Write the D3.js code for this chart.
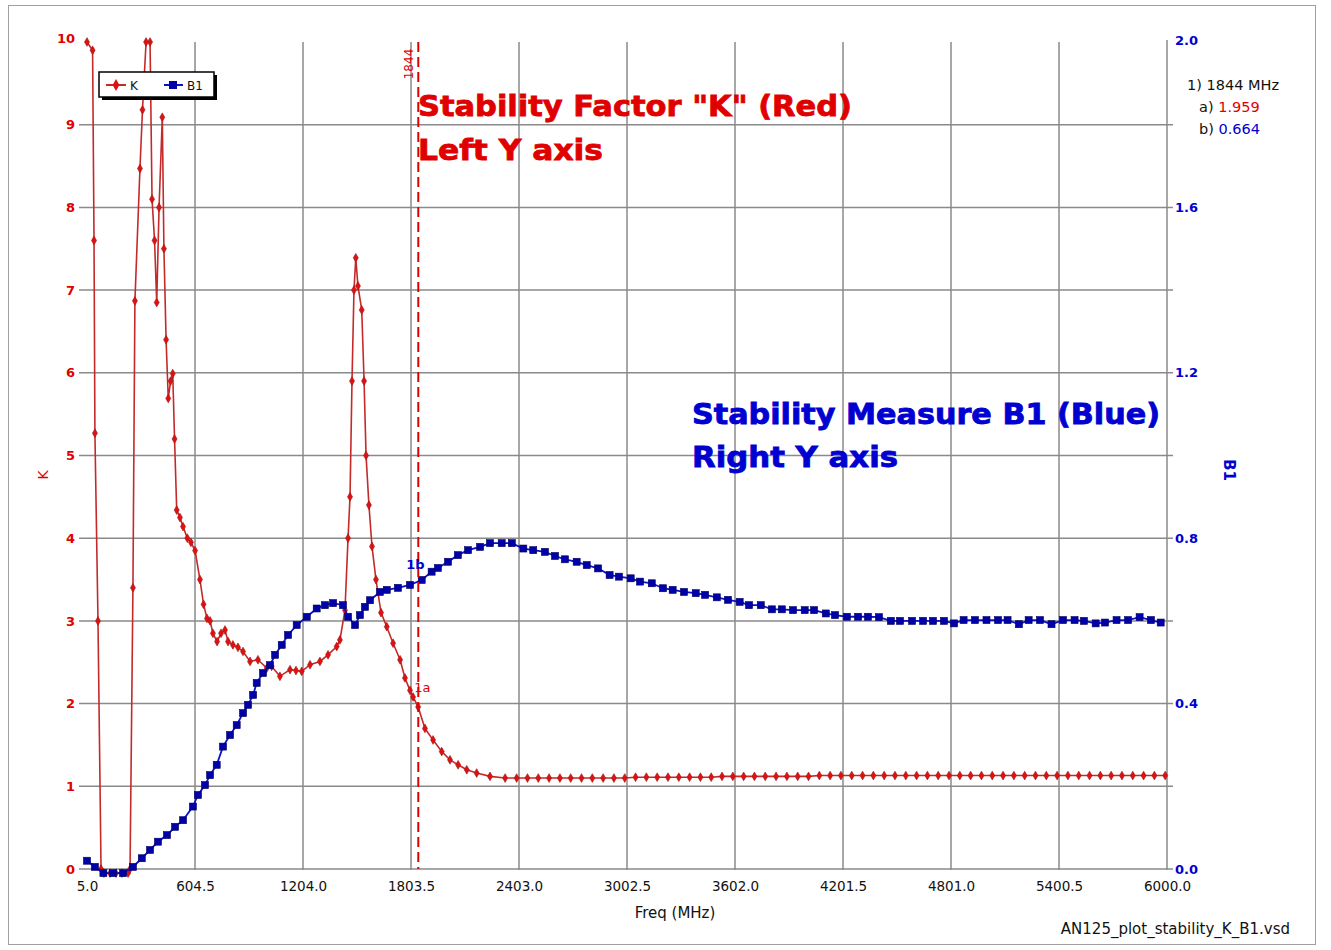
<!DOCTYPE html>
<meta charset="utf-8">
<style>
  body { margin: 0; background: #fff; }
  svg text { font-family: "DejaVu Sans", sans-serif; }
</style>
<script src="https://d3js.org/d3.v7.min.js"></script>
<div id="chart"></div>
<script>
// Stability factor K (left axis) – frequency in MHz
const kFreq = [5, 36, 44, 49, 66, 83, 99, 133, 166, 199, 233, 244, 260, 271, 299, 313, 333, 355, 366, 380,
  392, 405, 423, 432, 444, 456, 469, 481, 491, 503, 521, 538, 562, 582, 605, 632, 652, 671, 688, 704,
  727, 749, 771, 788, 815, 843, 871, 910, 954, 1003, 1030, 1076, 1132, 1165, 1197, 1243, 1298, 1343, 1391, 1409,
  1437, 1454, 1465, 1476, 1487, 1497, 1509, 1530, 1543, 1554, 1570, 1587, 1609, 1637, 1669, 1704, 1743, 1770, 1798, 1815,
  1843, 1881, 1926, 1974, 2020, 2065, 2113, 2168, 2242, 2326,
  2390, 2450, 2510, 2570, 2630, 2690, 2750, 2810, 2870, 2930, 2990, 3050, 3110, 3170, 3230, 3290, 3350, 3410, 3470, 3530,
  3590, 3650, 3710, 3770, 3830, 3890, 3950, 4010, 4070, 4130, 4190, 4250, 4310, 4370, 4430, 4490, 4550, 4610, 4670, 4730,
  4790, 4850, 4910, 4970, 5030, 5090, 5150, 5210, 5270, 5330, 5390, 5450, 5510, 5570, 5630, 5690, 5750, 5810, 5870, 5930, 5990];
const kVals = [10, 9.9, 7.6, 5.27, 3.0, 0, -0.05, -0.05, -0.05, -0.05, -0.05, 0.0, 3.4, 6.87, 8.47, 9.18, 10, 10, 8.1, 7.6,
  6.85, 8.0, 9.09, 7.5, 6.4, 5.69, 5.9, 5.99, 5.2, 4.34, 4.25, 4.14, 4.0, 3.95, 3.85, 3.5, 3.2, 3.03, 3.0, 2.85,
  2.75, 2.85, 2.89, 2.75, 2.71, 2.68, 2.63, 2.51, 2.53, 2.43, 2.45, 2.33, 2.41, 2.4, 2.39, 2.47, 2.51, 2.59, 2.69, 2.77,
  3.13, 4.0, 4.5, 5.9, 7.0, 7.39, 7.05, 6.76, 5.9, 5.0, 4.4, 3.9, 3.5, 3.1, 2.93, 2.73, 2.53, 2.31, 2.16, 2.08,
  1.96, 1.70, 1.56, 1.42, 1.32, 1.26, 1.20, 1.16, 1.12, 1.10,
  1.10, 1.10, 1.10, 1.10, 1.10, 1.10, 1.10, 1.10, 1.10, 1.10, 1.10, 1.11, 1.11, 1.11, 1.11, 1.11, 1.11, 1.11, 1.11, 1.12,
  1.12, 1.12, 1.12, 1.12, 1.12, 1.12, 1.12, 1.12, 1.13, 1.13, 1.13, 1.13, 1.13, 1.13, 1.13, 1.13, 1.13, 1.13, 1.13, 1.13,
  1.13, 1.13, 1.13, 1.13, 1.13, 1.13, 1.13, 1.13, 1.13, 1.13, 1.13, 1.13, 1.13, 1.13, 1.13, 1.13, 1.13, 1.13, 1.13, 1.13, 1.13];

// Stability measure B1 (right axis)
const b1Freq = [5, 49, 96, 149, 205, 260, 309, 355, 399, 449, 494, 538, 593, 621, 660, 688, 725, 760, 799, 836,
  871, 899, 927, 947, 982, 1021, 1049, 1086, 1121, 1169, 1225, 1280, 1326, 1371, 1426, 1454, 1493, 1520, 1548, 1576,
  1631, 1669, 1731, 1798, 1863, 1918, 1953, 2009, 2064, 2120, 2187, 2242, 2307, 2363, 2427, 2482, 2547, 2603, 2658, 2723,
  2779, 2842, 2906, 2958, 3023, 3075, 3140, 3202, 3256, 3319, 3384, 3436, 3501, 3563, 3628, 3680, 3745, 3807, 3862, 3924,
  3989, 4041, 4106, 4157, 4223, 4285, 4340, 4401, 4467, 4518, 4585, 4646, 4701, 4762, 4818, 4871, 4934, 4998, 5062, 5115,
  5178, 5232, 5295, 5359, 5423, 5487, 5539, 5604, 5656, 5720, 5784, 5848, 5911, 5965];
const b1Vals = [0.02, 0.005, -0.01, -0.01, -0.01, 0.005, 0.026, 0.046, 0.066, 0.082, 0.102, 0.118, 0.151, 0.179, 0.203, 0.227, 0.252, 0.296, 0.324, 0.348,
  0.377, 0.397, 0.421, 0.450, 0.474, 0.493, 0.518, 0.542, 0.566, 0.590, 0.610, 0.630, 0.638, 0.643, 0.638, 0.610, 0.590, 0.614, 0.634, 0.650,
  0.670, 0.675, 0.680, 0.687, 0.699, 0.719, 0.728, 0.743, 0.759, 0.771, 0.779, 0.788, 0.788, 0.788, 0.775, 0.771, 0.767, 0.757, 0.749, 0.743,
  0.735, 0.727, 0.711, 0.707, 0.703, 0.695, 0.691, 0.679, 0.675, 0.670, 0.667, 0.663, 0.657, 0.651, 0.646, 0.638, 0.638, 0.628, 0.628, 0.626,
  0.626, 0.626, 0.618, 0.614, 0.610, 0.610, 0.610, 0.609, 0.600, 0.600, 0.600, 0.600, 0.600, 0.600, 0.594, 0.602, 0.602, 0.602, 0.602, 0.602,
  0.592, 0.602, 0.602, 0.592, 0.602, 0.602, 0.600, 0.594, 0.596, 0.602, 0.602, 0.609, 0.602, 0.596];

const xTicks = [5.0, 604.5, 1204.0, 1803.5, 2403.0, 3002.5, 3602.0, 4201.5, 4801.0, 5400.5, 6000.0];
const kTicks = [0, 1, 2, 3, 4, 5, 6, 7, 8, 9, 10];
const b1Ticks = [0.0, 0.4, 0.8, 1.2, 1.6, 2.0];
const markerFreq = 1844, markerK = 1.959, markerB1 = 0.664;

const W = 1331, H = 950;
const redLine = "#c42a2a", redMark = "#e01010", red = "#e00000";
const blueLine = "#1010c8", blueMark = "#0000a8", blue = "#0000d0";
const grid = "#8a8a8a";

const svg = d3.select("#chart").append("svg")
  .attr("width", W).attr("height", H);

svg.append("rect").attr("x", 8.5).attr("y", 5.5).attr("width", 1307).attr("height", 939)
  .attr("fill", "#fff").attr("stroke", "#a0a0a0");

const x = d3.scaleLinear().domain([5, 6000]).range([87, 1167]);
const yK = d3.scaleLinear().domain([0, 10]).range([869, 42]);
const yB = d3.scaleLinear().domain([0, 2]).range([869, 42]);

// grid
svg.append("g").selectAll("line").data(kTicks.filter(d => d < 10)).join("line")
  .attr("x1", 79).attr("x2", 1173)
  .attr("y1", d => yK(d)).attr("y2", d => yK(d))
  .attr("stroke", grid).attr("stroke-width", 1.5);
svg.append("g").selectAll("line").data(xTicks.filter(d => d > 5)).join("line")
  .attr("x1", d => x(d)).attr("x2", d => x(d))
  .attr("y1", d => d === 6000 ? 40 : yK(10)).attr("y2", yK(0) + 1)
  .attr("stroke", grid).attr("stroke-width", 1.5);

// axes labels
const left = svg.append("g").attr("transform", "translate(87,0)")
  .call(d3.axisLeft(yK).tickValues(kTicks).tickSize(0).tickPadding(12));
left.select(".domain").remove();
left.selectAll("text").attr("fill", red).attr("font-size", 13).attr("font-weight", "bold")
  .attr("dy", d => d === 10 ? "0.05em" : "0.32em");

const right = svg.append("g").attr("transform", "translate(1167,0)")
  .call(d3.axisRight(yB).tickValues(b1Ticks).tickFormat(d3.format(".1f")).tickSize(0).tickPadding(8));
right.select(".domain").remove();
right.selectAll("text").attr("fill", blue).attr("font-size", 13).attr("font-weight", "bold")
  .attr("dy", d => d === 2 ? "0.2em" : "0.32em");

const bottom = svg.append("g").attr("transform", "translate(0,869)")
  .call(d3.axisBottom(x).tickValues(xTicks).tickFormat(d3.format(".1f")).tickSize(0).tickPadding(12));
bottom.select(".domain").remove();
bottom.selectAll("text").attr("fill", "#111").attr("font-size", 13.5);

svg.append("text").attr("transform", "translate(48,475) rotate(-90)")
  .attr("text-anchor", "middle").attr("fill", red).attr("font-size", 14).text("K");
svg.append("text").attr("transform", "translate(1224,470) rotate(90)")
  .attr("text-anchor", "middle").attr("fill", blue).attr("font-size", 15).attr("font-weight", "bold").text("B1");
svg.append("text").attr("x", 675).attr("y", 918).attr("text-anchor", "middle")
  .attr("fill", "#111").attr("font-size", 15).text("Freq (MHz)");
svg.append("text").attr("x", 1290).attr("y", 934).attr("text-anchor", "end")
  .attr("fill", "#111").attr("font-size", 15).text("AN125_plot_stability_K_B1.vsd");

// clip
svg.append("clipPath").attr("id", "plot").append("rect")
  .attr("x", 80).attr("y", 30).attr("width", 1095).attr("height", 850);
const plot = svg.append("g").attr("clip-path", "url(#plot)");

// series
const kData = kFreq.map((f, i) => [f, kVals[i]]);
const bData = b1Freq.map((f, i) => [f, b1Vals[i]]);

plot.append("path").datum(kData)
  .attr("fill", "none").attr("stroke", redLine).attr("stroke-width", 1.6)
  .attr("d", d3.line().x(d => x(d[0])).y(d => yK(d[1])));
plot.append("g").selectAll("path").data(kData).join("path")
  .attr("transform", d => `translate(${x(d[0])},${yK(d[1])})`)
  .attr("d", d3.symbol(d3.symbolDiamond, 22))
  .attr("fill", redMark).attr("stroke", "#a01818").attr("stroke-width", 0.6);

plot.append("path").datum(bData)
  .attr("fill", "none").attr("stroke", blueLine).attr("stroke-width", 1.8)
  .attr("d", d3.line().x(d => x(d[0])).y(d => yB(d[1])));
plot.append("g").selectAll("rect").data(bData).join("rect")
  .attr("x", d => x(d[0]) - 3.5).attr("y", d => yB(d[1]) - 3.5)
  .attr("width", 7).attr("height", 7)
  .attr("fill", blueMark).attr("stroke", "#000060").attr("stroke-width", 0.6);

// marker line at 1844 MHz
svg.append("line")
  .attr("x1", x(markerFreq)).attr("x2", x(markerFreq))
  .attr("y1", yK(10)).attr("y2", yK(0))
  .attr("stroke", red).attr("stroke-width", 2).attr("stroke-dasharray", "10,5");
svg.append("text").attr("transform", `translate(${x(markerFreq) - 5},64) rotate(-90)`)
  .attr("text-anchor", "middle").attr("fill", red).attr("font-size", 12).text(markerFreq);
svg.append("text").attr("x", x(markerFreq) - 4).attr("y", yK(markerK) - 15)
  .attr("fill", red).attr("font-size", 13).text("1a");
svg.append("text").attr("x", x(markerFreq) - 12).attr("y", yB(markerB1) - 25)
  .attr("fill", blue).attr("font-size", 13).attr("font-weight", "bold").text("1b");

// annotations
const ann = [
  { t: 'Stability Factor "K" (Red)', x: 418, y: 116, c: red, w: 434 },
  { t: "Left Y axis", x: 418, y: 160, c: red, w: 185 },
  { t: "Stability Measure B1 (Blue)", x: 692, y: 424, c: blue, w: 468 },
  { t: "Right Y axis", x: 692, y: 467, c: blue, w: 206 }
];
svg.append("g").selectAll("text").data(ann).join("text")
  .attr("x", d => d.x).attr("y", d => d.y)
  .attr("fill", d => d.c).attr("stroke", d => d.c).attr("stroke-width", 0.8)
  .attr("font-family", "'Liberation Sans', Arial, sans-serif")
  .attr("font-weight", "bold").attr("font-size", 28)
  .attr("textLength", d => d.w).attr("lengthAdjust", "spacingAndGlyphs")
  .text(d => d.t);

// readout
const ro = svg.append("g").attr("font-size", 14.5).attr("fill", "#111");
ro.append("text").attr("x", 1187).attr("y", 90).text(`1) ${markerFreq} MHz`);
const ra = ro.append("text").attr("x", 1199).attr("y", 112);
ra.append("tspan").text("a) ");
ra.append("tspan").attr("fill", red).text(markerK.toFixed(3));
const rb = ro.append("text").attr("x", 1199).attr("y", 134);
rb.append("tspan").text("b) ");
rb.append("tspan").attr("fill", blue).text(markerB1.toFixed(3));

// legend
const lg = svg.append("g");
lg.append("rect").attr("x", 102).attr("y", 75).attr("width", 115).attr("height", 25).attr("fill", "#000");
lg.append("rect").attr("x", 99).attr("y", 72).attr("width", 115).attr("height", 25)
  .attr("fill", "#fff").attr("stroke", "#000").attr("stroke-width", 1.5);
lg.append("line").attr("x1", 106).attr("x2", 126).attr("y1", 85).attr("y2", 85)
  .attr("stroke", redLine).attr("stroke-width", 2);
lg.append("path").attr("transform", "translate(116,85)").attr("d", d3.symbol(d3.symbolDiamond, 40))
  .attr("fill", redMark);
lg.append("text").attr("x", 130).attr("y", 90).attr("font-size", 12).attr("fill", "#111").text("K");
lg.append("line").attr("x1", 164).attr("x2", 183).attr("y1", 85).attr("y2", 85)
  .attr("stroke", blueLine).attr("stroke-width", 2);
lg.append("rect").attr("x", 169).attr("y", 81).attr("width", 8).attr("height", 8).attr("fill", blueMark);
lg.append("text").attr("x", 187).attr("y", 90).attr("font-size", 12).attr("fill", "#111").text("B1");
</script>
